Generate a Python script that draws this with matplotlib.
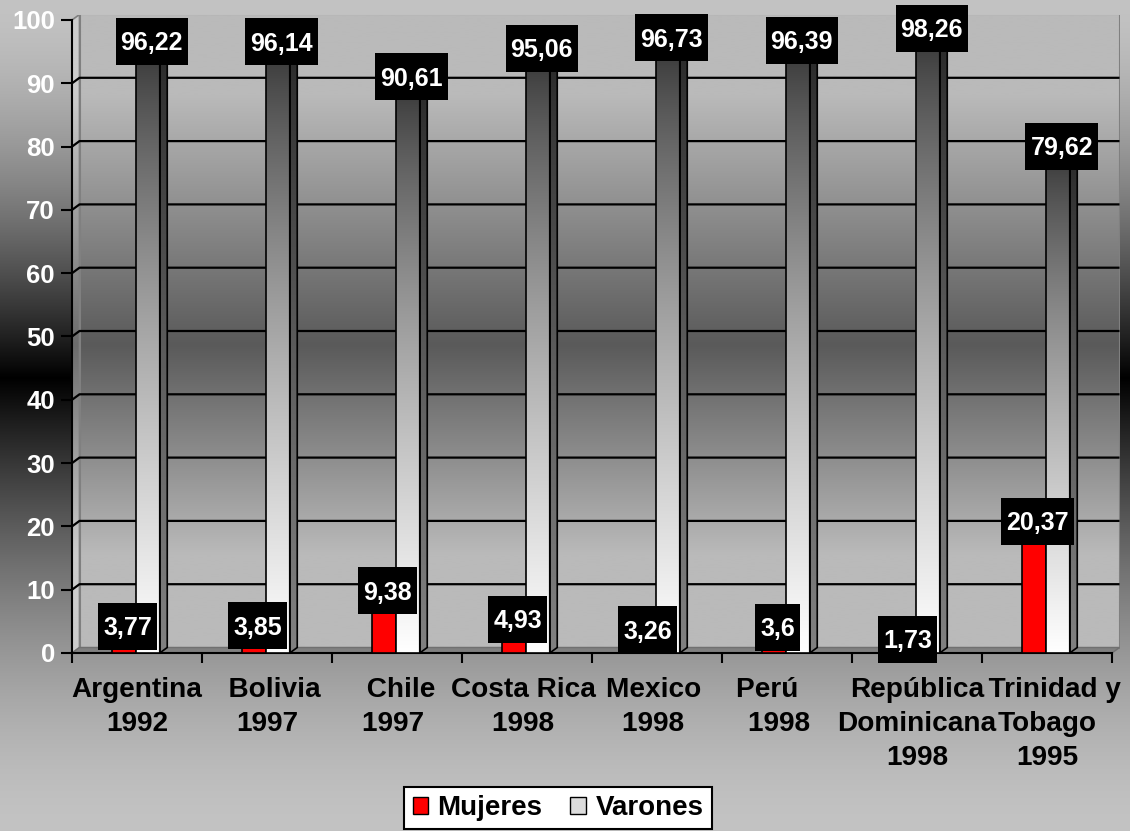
import numpy as np
import matplotlib
matplotlib.use("Agg")
import matplotlib.pyplot as plt
from matplotlib.patches import Polygon, Rectangle, Patch

plt.rcParams['font.family'] = ['Liberation Sans', 'DejaVu Sans']
plt.rcParams['font.weight'] = 'bold'

# ---- data -------------------------------------------------------------
categorias = ["Argentina\n1992", "  Bolivia\n1997", " Chile\n1997 ", "Costa Rica \n1998 ",
              "Mexico \n1998 ", "Perú     \n1998  ", "República\nDominicana\n1998",
              "  Trinidad y\nTobago\n1995"]
mujeres = [3.77, 3.85, 9.38, 4.93, 3.26, 3.6, 1.73, 20.37]
varones = [96.22, 96.14, 90.61, 95.06, 96.73, 96.39, 98.26, 79.62]
etiquetas_y = [0, 10, 20, 30, 40, 50, 60, 70, 80, 90, 100]
series = ["Mujeres", "Varones"]

# ---- layout -----------------------------------------------------------
W, H, DPI = 1130, 831, 100
LEFT, RIGHT, TOP, BOTTOM = 72, 1112, 20, 653       # front plane, pixels
DPX, DPY = 7.5, 5.5                                 # 3-D depth offset, pixels
ncat = len(categorias)
ymax = etiquetas_y[-1]
xunit = (RIGHT - LEFT) / ncat
yunit = (BOTTOM - TOP) / ymax
ddx, ddy = DPX / xunit, DPY / yunit


def gray_img(vals):
    v = np.clip(np.asarray(vals, float) / 255.0, 0, 1)
    return np.repeat(v[:, None, None], 3, axis=2)


def fondo(y):
    """Figure background: light grey at the edges, black band across the middle."""
    c = 378.0
    d = np.where(y < c, (c - y) / c, (y - c) / (H - c))
    return 195 * (1 - (1 - np.clip(d, 0, 1)) ** 1.6)


def pared(y):
    """Back wall shading, darkest near the middle."""
    c = 345.0
    d = np.where(y < c, (c - y) / 250.0, (y - c) / 210.0)
    return 90 + 96 * np.clip(d, 0, 1)


fig = plt.figure(figsize=(W / DPI, H / DPI), dpi=DPI)

bg = fig.add_axes([0, 0, 1, 1], zorder=0)
bg.set_axis_off()
rows = np.arange(H) + 0.5
bg.imshow(gray_img(fondo(rows)), extent=[0, 1, 0, 1], aspect='auto',
          interpolation='bilinear')
bg.set_xlim(0, 1)
bg.set_ylim(0, 1)

ax = fig.add_axes([LEFT / W, (H - BOTTOM) / H, (RIGHT + DPX - LEFT) / W,
                   (BOTTOM - (TOP - DPY)) / H], zorder=1)
ax.patch.set_visible(False)
x0l, x1l = -0.5, ncat - 0.5

# ---- walls and floor --------------------------------------------------
wall_rows = np.linspace(TOP - DPY, BOTTOM, 400)
wall = Polygon([(x0l + ddx, ddy), (x1l + ddx, ddy), (x1l + ddx, ymax + ddy),
                (x0l + ddx, ymax + ddy)], closed=True, facecolor='none',
               edgecolor='#808080', lw=1.5, zorder=2)
ax.add_patch(wall)
im = ax.imshow(gray_img(pared(wall_rows)), extent=[x0l, x1l + ddx, 0, ymax + ddy],
               aspect='auto', zorder=1, interpolation='bilinear')
im.set_clip_path(wall)

side_wall = Polygon([(x0l, 0), (x0l + ddx, ddy), (x0l + ddx, ymax + ddy), (x0l, ymax)],
                    closed=True, facecolor='none', edgecolor='#808080', lw=1.2, zorder=2)
ax.add_patch(side_wall)
im = ax.imshow(gray_img(pared(wall_rows) + 18), extent=[x0l, x1l + ddx, 0, ymax + ddy],
               aspect='auto', zorder=1, interpolation='bilinear')
im.set_clip_path(side_wall)

floor = Polygon([(x0l, 0), (x1l, 0), (x1l + ddx, ddy), (x0l + ddx, ddy)], closed=True,
                facecolor='#808080', edgecolor='#707070', lw=1.0, zorder=2)
ax.add_patch(floor)

for v in etiquetas_y[1:-1]:
    ax.plot([x0l, x0l + ddx, x1l + ddx], [v, v + ddy, v + ddy], color='black',
            lw=1.6, zorder=2.5, solid_capstyle='butt')

# ---- bars -------------------------------------------------------------
x = np.arange(ncat)
bw = 0.18
xm = x - 0.1
xv = x + 0.085

bars_m = ax.bar(xm, mujeres, bw, color='#FF0000', edgecolor='black', lw=1.2, zorder=4)
bars_v = ax.bar(xv, varones, bw, facecolor='none', edgecolor='black', lw=1.2, zorder=6)

t = np.linspace(0, 1, 256)
front_vals = 48 + 207 * t ** 0.75
side_vals = 0.45 * front_vals + 14

for b, v in zip(bars_m, mujeres):
    a0 = b.get_x()
    a1 = a0 + b.get_width()
    top = Polygon([(a0, v), (a1, v), (a1 + ddx, v + ddy), (a0 + ddx, v + ddy)],
                  closed=True, facecolor='#FF5050', edgecolor='black', lw=1.0, zorder=4.2)
    ax.add_patch(top)

for b, v in zip(bars_v, varones):
    a0 = b.get_x()
    a1 = a0 + b.get_width()
    im = ax.imshow(gray_img(front_vals), extent=[a0, a1, 0, v], aspect='auto',
                   zorder=5, interpolation='bilinear')
    im.set_clip_path(b)
    side = Polygon([(a1, 0), (a1 + ddx, ddy), (a1 + ddx, v + ddy), (a1, v)], closed=True,
                   facecolor='none', edgecolor='black', lw=1.2, zorder=6)
    ax.add_patch(side)
    im = ax.imshow(gray_img(side_vals), extent=[a1, a1 + ddx, 0, v + ddy], aspect='auto',
                   zorder=5, interpolation='bilinear')
    im.set_clip_path(side)
    top = Polygon([(a0, v), (a1, v), (a1 + ddx, v + ddy), (a0 + ddx, v + ddy)],
                  closed=True, facecolor='#202020', edgecolor='black', lw=1.0, zorder=6.5)
    ax.add_patch(top)

ax.set_xlim(x0l, x1l + ddx)
ax.set_ylim(0, ymax + ddy)

# ---- axes -------------------------------------------------------------
for s in ('top', 'right'):
    ax.spines[s].set_visible(False)
ax.spines['left'].set_bounds(0, ymax)
ax.spines['bottom'].set_bounds(x0l, x1l)
for s in ('left', 'bottom'):
    ax.spines[s].set_linewidth(1.5)
    ax.spines[s].set_zorder(3)

ax.set_yticks(etiquetas_y)
ax.set_yticklabels([str(v) for v in etiquetas_y], fontsize=18.5, fontweight='bold',
                   color='white')
ax.tick_params(axis='y', direction='out', length=8, width=1.5, pad=4.3, color='black')

ax.set_xticks(np.arange(ncat + 1) - 0.5)
ax.set_xticklabels([])
ax.tick_params(axis='x', which='major', direction='out', length=7.5, width=1.5)
ax.set_xticks(x + 0.0, minor=True)
ax.set_xticklabels(categorias, minor=True, fontsize=20.2, fontweight='bold',
                   color='black', linespacing=1.41)
ax.tick_params(axis='x', which='minor', length=0, pad=17)

# ---- data labels ------------------------------------------------------
FS = 18
renderer = fig.canvas.get_renderer()
labels = []
for centers, vals in ((xm, mujeres), (xv, varones)):
    for cx, v in zip(centers, vals):
        px, py = cx + ddx / 2, v + ddy / 2
        txt = ax.annotate(f"{v:g}".replace('.', ','), xy=(px, py), xycoords='data',
                          xytext=(0, -0.716 * FS / 2), textcoords='offset points',
                          ha='center', va='baseline', color='white', fontsize=FS,
                          fontweight='bold', zorder=11, annotation_clip=False)
        labels.append((txt, px, py))

for txt, px, py in labels:
    bb = txt.get_window_extent(renderer=renderer)
    w = (bb.width + 10) / xunit
    h = 47 / yunit
    ax.add_patch(Rectangle((px - w / 2, py - h / 2), w, h, facecolor='black',
                           edgecolor='none', zorder=10, clip_on=False))

# ---- legend -----------------------------------------------------------
handles = [Patch(facecolor='#FF0000', edgecolor='black', lw=1.0),
           Patch(facecolor='#DCDCDC', edgecolor='black', lw=1.0)]
leg = fig.legend(handles, series, loc='center', bbox_to_anchor=(558 / W, 1 - 808 / H),
                 ncol=2, frameon=True, fancybox=False, edgecolor='black', framealpha=1,
                 prop={'size': 20, 'weight': 'bold'}, handlelength=0.55, handleheight=0.55,
                 handletextpad=0.35, columnspacing=1.0, borderpad=0.3, borderaxespad=0)
leg.get_frame().set_linewidth(1.5)
leg.get_frame().set_facecolor('white')

fig.savefig("out.png", dpi=DPI)
